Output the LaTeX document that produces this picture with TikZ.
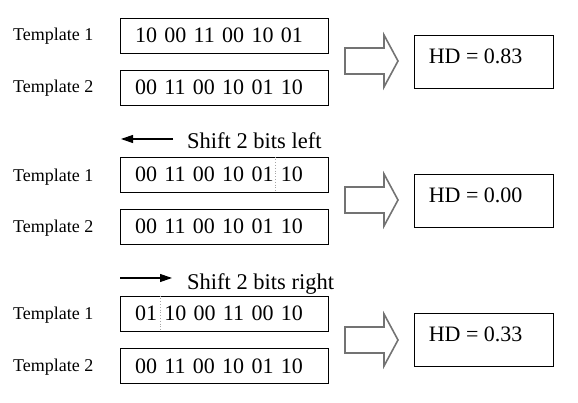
\documentclass[tikz,border=0pt]{standalone}
\usepackage{fontspec}
\setmainfont{Liberation Serif}
\usetikzlibrary{arrows.meta,calc}
\begin{document}
\begin{tikzpicture}[x=1pt,y=-1pt,
  bitbox/.style={draw,line width=0.9pt,minimum height=35pt,text width=178pt,inner xsep=15pt,inner ysep=0pt,align=left,font=\fontsize{22}{22}\selectfont},
  hdbox/.style={draw,line width=0.9pt,minimum width=139pt,minimum height=53pt,inner sep=0pt},
  hdtext/.style={anchor=base west,inner sep=0pt,font=\fontsize{22}{22}\selectfont},
  tlabel/.style={anchor=west,inner sep=0pt,font=\fontsize{18}{18}\selectfont},
  shiftlabel/.style={anchor=base west,inner sep=0pt,font=\fontsize{22.5}{22.5}\selectfont},
  shiftarrow/.style={line width=1.1pt,-{Triangle[length=12pt,width=8pt]}},
  bigarrow/.style={draw=black!55,line width=1.6pt,fill=white,line join=miter},
  divider/.style={draw=black!35,line width=0.8pt,dotted}
]
\useasboundingbox (0,0) rectangle (578,403);

% Block 1
\node[tlabel] (l11) at (13,36) {Template 1};
\node[tlabel] (l12) at (13,88) {Template 2};
\node[bitbox] (b11) at (224,35.5) {10 00 11 00 10 01};
\node[bitbox] (b12) at (224,87.5) {00 11 00 10 01 10};
\draw[bigarrow] (345,48) -- (384,48) -- (384,35) -- (398,61) -- (384,87) -- (384,74) -- (345,74) -- cycle;
\node[hdbox] (h1) at (483.5,61.5) {};
\node[hdtext] (h1t) at ([shift={(15pt,-29pt)}]h1.north west) {HD = 0.83};

% Block 2
\coordinate (s2a) at (173,139);
\coordinate (s2b) at (121,139);
\draw[shiftarrow] (s2a) -- (s2b);
\node[shiftlabel] (s2) at (187,149) {Shift 2 bits left};
\node[tlabel] (l21) at (13,177) {Template 1};
\node[tlabel] (l22) at (13,228) {Template 2};
\node[bitbox] (b21) at (224,174.5) {00 11 00 10 01 10};
\node[bitbox] (b22) at (224,226.5) {00 11 00 10 01 10};
\draw[divider] ([xshift=156pt]b21.north west) -- ([xshift=156pt]b21.south west);
\draw[bigarrow] (345,187) -- (384,187) -- (384,174) -- (398,200) -- (384,226) -- (384,213) -- (345,213) -- cycle;
\node[hdbox] (h2) at (483.5,200.5) {};
\node[hdtext] (h2t) at ([shift={(15pt,-29pt)}]h2.north west) {HD = 0.00};

% Block 3
\coordinate (s3a) at (120,278);
\coordinate (s3b) at (172,278);
\draw[shiftarrow] (s3a) -- (s3b);
\node[shiftlabel] (s3) at (187,290) {Shift 2 bits right};
\node[tlabel] (l31) at (13,315) {Template 1};
\node[tlabel] (l32) at (13,367) {Template 2};
\node[bitbox] (b31) at (224,313.5) {01 10 00 11 00 10};
\node[bitbox] (b32) at (224,366) {00 11 00 10 01 10};
\draw[divider] ([xshift=41pt]b31.north west) -- ([xshift=41pt]b31.south west);
\draw[bigarrow] (345,327) -- (384,327) -- (384,314) -- (398,340) -- (384,366) -- (384,353) -- (345,353) -- cycle;
\node[hdbox] (h3) at (483.5,339.5) {};
\node[hdtext] (h3t) at ([shift={(15pt,-29pt)}]h3.north west) {HD = 0.33};
\end{tikzpicture}
\end{document}
